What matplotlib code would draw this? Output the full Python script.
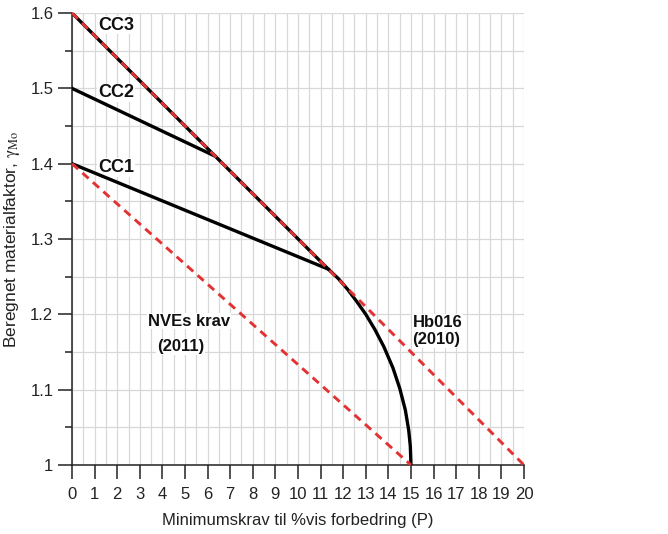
import matplotlib
matplotlib.use("Agg")
import matplotlib.pyplot as plt
from matplotlib.ticker import MultipleLocator

plt.rcParams['font.family'] = ['Liberation Sans', 'DejaVu Sans']
plt.rcParams['mathtext.fontset'] = 'stix'

# Data
x_ticks = list(range(0, 21))
y_ticks = [1.0, 1.1, 1.2, 1.3, 1.4, 1.5, 1.6]
y_tick_labels = ["1", "1.1", "1.2", "1.3", "1.4", "1.5", "1.6"]

# CC3 envelope (straight part then curve down to P=15)
cc3_x = [0.0, 11.34, 11.8, 12.2, 12.6, 13.0, 13.4, 13.8, 14.2, 14.5, 14.75, 14.9, 14.97, 15.0]
cc3_y = [1.600, 1.260, 1.247, 1.233, 1.217, 1.200, 1.180, 1.157, 1.129, 1.102, 1.073, 1.046, 1.025, 1.000]
cc2_x = [0.0, 6.33]
cc2_y = [1.500, 1.410]
cc1_x = [0.0, 11.34]
cc1_y = [1.400, 1.260]

hb016_x = [0.0, 20.0]
hb016_y = [1.600, 1.000]
nve_x = [0.0, 15.0]
nve_y = [1.400, 1.000]

fig = plt.figure(figsize=(6.68, 5.34), dpi=100)
ax = fig.add_axes([0.1078, 0.1292, 0.6766, 0.8464])

ax.set_xlim(0, 20)
ax.set_ylim(1.0, 1.6)

ax.xaxis.set_major_locator(MultipleLocator(1))
ax.xaxis.set_minor_locator(MultipleLocator(0.5))
ax.set_yticks(y_ticks)
ax.set_yticklabels(y_tick_labels)
ax.yaxis.set_minor_locator(MultipleLocator(0.05))
ax.set_xticks(x_ticks)
ax.set_xticklabels([str(v) for v in x_ticks])

ax.grid(True, which='both', color='#d8d8d8', lw=0.9, zorder=0)
ax.set_axisbelow(True)
for s in ['top', 'right']:
    ax.spines[s].set_visible(False)
for s in ['left', 'bottom']:
    ax.spines[s].set_color('#222222')
    ax.spines[s].set_linewidth(1.1)

ax.tick_params(axis='both', which='major', direction='out', length=10, width=1.1,
               colors='#222222', labelsize=12, labelcolor='#222222')
ax.tick_params(axis='y', which='minor', direction='out', length=5, width=1.1, colors='#222222')
ax.tick_params(axis='x', which='minor', length=0)
ax.tick_params(axis='x', pad=6)

lw_black = 2.4
ax.plot(cc3_x, cc3_y, color='black', lw=lw_black, zorder=3, solid_capstyle='butt')
ax.plot(cc2_x, cc2_y, color='black', lw=lw_black, zorder=3)
ax.plot(cc1_x, cc1_y, color='black', lw=lw_black, zorder=3)

red = '#e23232'
ax.plot(hb016_x, hb016_y, color=red, lw=2.1, ls=(0, (2.8, 2.0)), zorder=4, clip_on=False)
ax.plot(nve_x, nve_y, color=red, lw=2.1, ls=(0, (2.8, 2.0)), zorder=4, clip_on=False)

bbox = dict(facecolor='white', edgecolor='none', pad=0.5)
lab_kw = dict(fontsize=13, fontweight='bold', color='#111111', va='center', ha='left', zorder=2)
ax.text(1.15, 1.584, "CC3", bbox=bbox, **lab_kw)
ax.text(1.15, 1.494, "CC2", bbox=bbox, **lab_kw)
ax.text(1.15, 1.395, "CC1", bbox=bbox, **lab_kw)

txt_kw = dict(fontsize=12, fontweight='bold', color='#111111', va='center', ha='left', zorder=2)
ax.text(3.36, 1.191, "NVEs krav", bbox=bbox, **txt_kw)
ax.text(3.76, 1.157, "(2011)", bbox=bbox, **txt_kw)
ax.text(15.07, 1.189, "Hb016", bbox=bbox, **txt_kw)
ax.text(15.07, 1.166, "(2010)", bbox=bbox, **txt_kw)

ax.set_xlabel("Minimumskrav til %vis forbedring (P)", fontsize=12, color='#222222', labelpad=8)
ax.set_ylabel(r"Beregnet materialfaktor, $\mathrm{\gamma}_{\mathrm{Mo}}$", fontsize=12.5, color='#222222', labelpad=6)

fig.savefig("out.png", dpi=100)
